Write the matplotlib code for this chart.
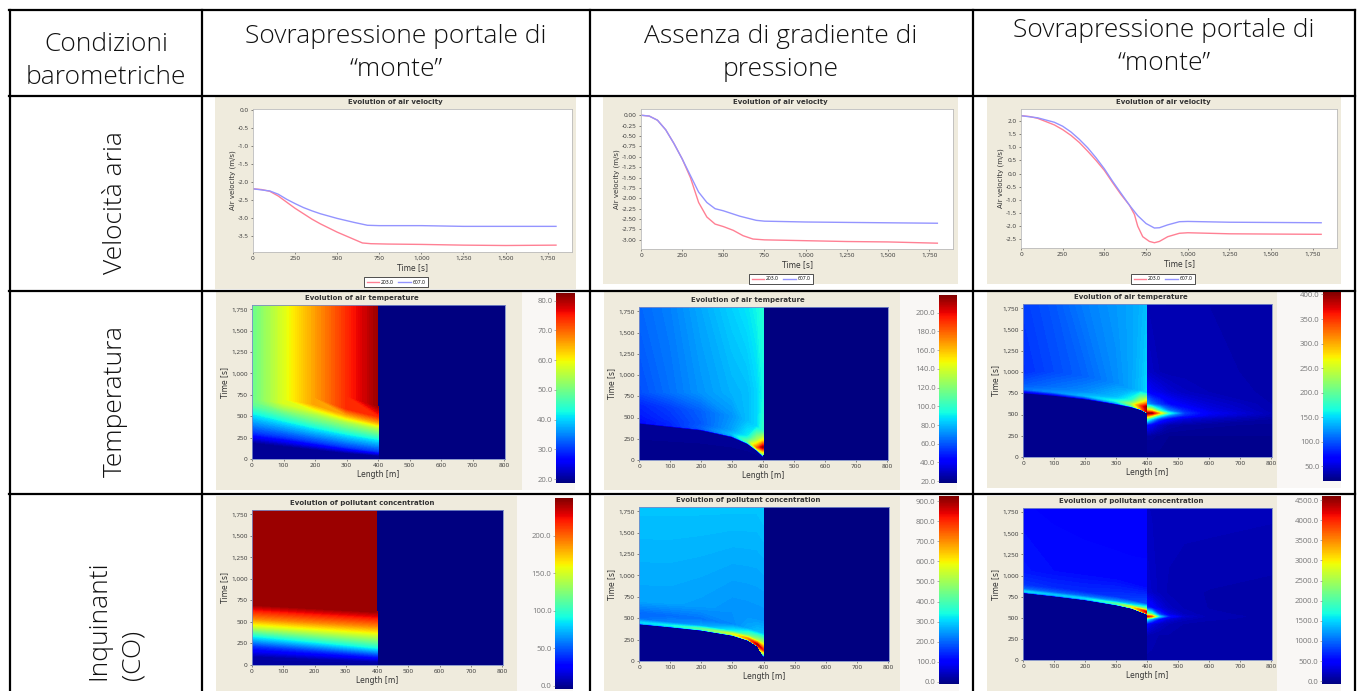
import numpy as np
import matplotlib
matplotlib.use("Agg")
import matplotlib.pyplot as plt
from matplotlib.cm import ScalarMappable
from matplotlib.colors import Normalize
from matplotlib.patches import Rectangle
from matplotlib.ticker import FuncFormatter

W, H = 1359, 691
BEIGE = "#efebdd"
PALE = "#f9f7f5"
plt.rcParams["font.family"] = ["Open Sans", "DejaVu Sans"]

# ---- air velocity curves
v1_t_red = [0, 50, 100, 150, 200, 250, 300, 350, 400, 500, 600, 650, 700, 800, 1000, 1250, 1500, 1800]
v1_red = [-2.18, -2.2, -2.25, -2.38, -2.55, -2.72, -2.87, -3.02, -3.15, -3.38, -3.58, -3.68, -3.7, -3.71, -3.72, -3.74, -3.75, -3.74]
v1_t_blue = [0, 100, 150, 200, 250, 300, 350, 400, 500, 600, 680, 750, 1000, 1250, 1800]
v1_blue = [-2.18, -2.24, -2.33, -2.47, -2.59, -2.7, -2.79, -2.87, -3.0, -3.11, -3.19, -3.2, -3.2, -3.22, -3.22]

v2_t_red = [0, 50, 100, 150, 200, 250, 300, 350, 400, 450, 500, 560, 620, 680, 750, 1000, 1250, 1500, 1800]
v2_red = [0, -0.02, -0.12, -0.35, -0.68, -1.05, -1.5, -2.1, -2.45, -2.62, -2.68, -2.77, -2.9, -2.98, -3.0, -3.02, -3.04, -3.05, -3.08]
v2_t_blue = [0, 50, 100, 150, 200, 250, 300, 350, 400, 450, 500, 600, 700, 750, 1000, 1250, 1800]
v2_blue = [0, -0.02, -0.12, -0.35, -0.68, -1.05, -1.45, -1.85, -2.1, -2.25, -2.3, -2.43, -2.53, -2.55, -2.57, -2.58, -2.6]

v3_t_red = [0, 50, 100, 200, 250, 300, 350, 400, 450, 500, 550, 600, 650, 680, 700, 730, 770, 800, 830, 880, 950, 1000, 1250, 1500, 1800]
v3_red = [2.2, 2.17, 2.1, 1.85, 1.67, 1.45, 1.18, 0.85, 0.5, 0.12, -0.35, -0.8, -1.2, -1.55, -2.0, -2.4, -2.58, -2.63, -2.58, -2.4, -2.27, -2.25, -2.29, -2.3, -2.31]
v3_t_blue = [0, 100, 200, 250, 300, 350, 400, 450, 500, 550, 600, 650, 700, 750, 800, 830, 880, 950, 1000, 1250, 1800]
v3_blue = [2.2, 2.12, 1.95, 1.8, 1.58, 1.3, 0.98, 0.6, 0.18, -0.3, -0.75, -1.2, -1.6, -1.9, -2.07, -2.06, -1.95, -1.83, -1.82, -1.85, -1.87]

# ---- fields: each row gives the time per length and the value there
t1_len = [0, 100, 200, 300, 400]
t1_time = [[0, 0, 0, 0, 0], [190, 150, 110, 70, 40], [310, 260, 200, 140, 90], [500, 420, 340, 270, 210],
           [650, 540, 450, 370, 300], [670, 600, 520, 430, 350], [700, 660, 560, 460, 380], [700, 700, 640, 520, 430],
           [720, 720, 720, 590, 500], [740, 740, 740, 740, 620], [1800, 1800, 1800, 1800, 1800]]
t1_val = [[20, 20, 20, 20, 20], [20, 20, 20, 20, 20], [30, 30, 30, 30, 30], [40, 40, 40, 40, 40],
          [49, 49, 49, 49, 49], [49, 54, 54, 54, 54], [49, 58, 58, 58, 58], [49, 58, 66, 66, 66],
          [49, 58, 66, 74, 74], [49, 58, 66, 74, 81], [49, 58, 66, 74, 81]]

t2_len = [0, 100, 200, 300, 350, 380, 400]
t2_time = [[0, 0, 0, 0, 0, 0, 0], [430, 390, 350, 270, 190, 110, 40], [445, 405, 365, 285, 205, 125, 60],
           [470, 430, 385, 305, 225, 150, 150], [520, 480, 430, 350, 280, 230, 230], [650, 620, 580, 520, 470, 400, 340],
           [800, 800, 800, 800, 800, 800, 800], [1800, 1800, 1800, 1800, 1800, 1800, 1800]]
t2_val = [[20, 20, 20, 20, 20, 20, 20], [22, 22, 22, 22, 22, 22, 22], [45, 50, 60, 75, 100, 140, 110],
          [45, 50, 62, 80, 110, 175, 215], [47, 52, 60, 75, 90, 130, 150], [50, 55, 62, 72, 80, 85, 100],
          [58, 65, 72, 78, 80, 85, 92], [63, 68, 76, 84, 88, 92, 96]]

t3_len = [0, 100, 200, 300, 350, 380, 400]
t3_time = [[0, 0, 0, 0, 0, 0, 0], [750, 720, 680, 620, 585, 555, 515], [765, 735, 695, 635, 600, 565, 525],
           [800, 765, 720, 660, 625, 600, 590], [860, 820, 770, 700, 670, 650, 640], [1000, 1000, 950, 870, 800, 780, 750],
           [1800, 1800, 1800, 1800, 1800, 1800, 1800]]
t3_val = [[25, 25, 25, 25, 25, 25, 25], [25, 25, 25, 25, 25, 25, 25], [60, 70, 90, 130, 190, 300, 380],
          [110, 120, 135, 165, 230, 340, 400], [100, 110, 120, 140, 170, 250, 300], [85, 95, 105, 120, 130, 140, 150],
          [90, 100, 115, 125, 130, 135, 140]]
t3_right_len = [400, 415, 440, 470, 520, 600, 800]
t3_right_time = [0, 250, 380, 450, 490, 515, 545, 620, 760, 1000, 1800]
t3_right_val = [[25, 25, 25, 25, 25, 25, 25], [30, 30, 28, 26, 26, 26, 26], [70, 60, 45, 35, 32, 30, 28],
                [200, 150, 90, 65, 50, 42, 32], [330, 290, 180, 120, 80, 55, 36], [395, 395, 290, 170, 90, 60, 38],
                [300, 280, 180, 115, 80, 55, 36], [130, 110, 90, 70, 58, 48, 35], [70, 60, 55, 48, 42, 38, 34],
                [45, 42, 38, 36, 36, 36, 34], [38, 36, 35, 35, 35, 35, 34]]

c1_len = [0, 400]
c1_time = [[0, 0], [100, 40], [220, 110], [340, 200], [450, 350], [540, 450], [620, 530], [700, 620], [1800, 1800]]
c1_val = [[2, 2], [5, 5], [40, 40], [90, 90], [150, 150], [190, 190], [215, 215], [243, 243], [243, 243]]

c2_len = [0, 100, 200, 300, 350, 380, 400]
c2_time = [[0, 0, 0, 0, 0, 0, 0], [430, 395, 357, 297, 240, 170, 50], [438, 403, 365, 305, 248, 178, 60],
           [450, 415, 377, 317, 262, 195, 130], [490, 450, 410, 350, 300, 240, 210], [560, 530, 490, 430, 380, 340, 320],
           [700, 680, 650, 600, 550, 500, 480], [1800, 1800, 1800, 1800, 1800, 1800, 1800]]
c2_val = [[0, 0, 0, 0, 0, 0, 0], [0, 0, 0, 0, 0, 0, 0], [250, 280, 350, 450, 600, 780, 300],
          [300, 330, 420, 560, 700, 880, 800], [210, 230, 260, 330, 430, 520, 520], [200, 205, 210, 230, 260, 280, 280],
          [255, 255, 250, 240, 240, 240, 240], [285, 285, 285, 285, 285, 285, 290]]

c3_len = [0, 100, 200, 300, 350, 400]
c3_time = [[0, 0, 0, 0, 0, 0], [795, 755, 710, 650, 610, 540], [801, 761, 716, 656, 616, 548],
           [813, 773, 728, 668, 628, 570], [840, 800, 755, 695, 655, 600], [885, 850, 800, 745, 705, 660],
           [1050, 1050, 1000, 950, 900, 850], [1800, 1800, 1800, 1800, 1800, 1800]]
c3_val = [[0, 0, 0, 0, 0, 0], [0, 0, 0, 0, 0, 0], [1000, 1000, 1100, 1500, 2200, 3800],
          [1500, 1400, 1500, 2000, 2800, 4300], [1000, 950, 1000, 1200, 1500, 2400], [750, 700, 700, 750, 800, 900],
          [600, 550, 550, 550, 550, 550], [520, 500, 480, 460, 450, 450]]
c3_right_len = [400, 415, 440, 470, 520, 600, 800]
c3_right_time = [0, 300, 430, 490, 515, 540, 620, 800, 1800]
c3_right_val = [[100, 100, 100, 100, 100, 100, 100], [150, 130, 110, 110, 100, 100, 100], [500, 320, 220, 150, 110, 100, 100],
                [1800, 1300, 600, 300, 170, 120, 100], [4200, 3800, 1500, 600, 240, 130, 100], [2600, 2100, 800, 340, 180, 120, 100],
                [650, 500, 320, 200, 140, 110, 100], [250, 220, 170, 140, 120, 110, 100], [190, 180, 170, 170, 170, 170, 160]]

legend_labels = ["203.0", "607.0"]
headers = [("Condizioni\nbarometriche", 106, 61), ("Sovrapressione portale di\n“monte”", 396, 53),
           ("Assenza di gradiente di\npressione", 781, 53), ("Sovrapressione portale di\n“monte”", 1164, 47)]
row_labels = [("Velocità aria", 115, 203), ("Temperatura", 115, 401), ("Inquinanti\n(CO)", 116, 620)]


def px_axes(fig, x0, y0, x1, y1):
    # pixel box, y counted from the top of the picture
    return fig.add_axes([x0 / W, 1 - y1 / H, (x1 - x0) / W, (y1 - y0) / H], zorder=2)


def comma(v, pos):
    return f"{int(v):,}"


def style_axes(ax, edge):
    ax.tick_params(labelsize=4.6, length=1.5, width=0.4, pad=1.5, colors="#333333")
    for s in ax.spines.values():
        s.set_color(edge)
        s.set_linewidth(0.6)


def velocity_panel(fig, bg, box, title, title_x, ylim, yticks, yfmt, red, blue, legend_xy):
    bg.add_patch(Rectangle((box[0], box[1]), box[2] - box[0], box[3] - box[1], color=BEIGE, lw=0, zorder=0))
    bg.text(title_x, 102, title, fontsize=5, fontweight="bold", color="#333333", ha="center", va="center", family="DejaVu Sans")
    ax = px_axes(fig, *box[4:])
    l1, = ax.plot(red[0], red[1], color="#ff8094", lw=1.0, label=legend_labels[0])
    l2, = ax.plot(blue[0], blue[1], color="#9494ff", lw=1.0, label=legend_labels[1])
    ax.set_xlim(0, 1895)
    ax.set_ylim(*ylim)
    ax.set_xticks(range(0, 2000, 250))
    ax.set_yticks(yticks)
    ax.xaxis.set_major_formatter(FuncFormatter(comma))
    ax.yaxis.set_major_formatter(FuncFormatter(lambda v, p: yfmt.format(v)))
    style_axes(ax, "#bbbbbb")
    ax.set_xlabel("Time [s]", fontsize=5.5, labelpad=1.5, color="#333333", family="DejaVu Sans")
    ax.set_ylabel("Air velocity (m/s)", fontsize=5, labelpad=1.5, color="#333333", family="DejaVu Sans")
    leg = fig.legend(handles=[l1, l2], ncol=2, fontsize=3.6, loc="center", bbox_to_anchor=(legend_xy[0] / W, 1 - legend_xy[1] / H),
                     fancybox=False, edgecolor="#333333", framealpha=1, handlelength=2.5, columnspacing=0.8, borderpad=0.5, handletextpad=0.4)
    leg.get_frame().set_linewidth(0.6)
    leg.set_zorder(5)


def field_panel(fig, bg, box, title, title_x, title_y, cbox, vlim, cticks, fields):
    bg.add_patch(Rectangle((box[0], box[1]), box[2] - box[0], box[3] - box[1], color=BEIGE, lw=0, zorder=0))
    bg.add_patch(Rectangle((box[2], box[1]), cbox[2] - box[2], box[3] - box[1], color=PALE, lw=0, zorder=0))
    bg.text(title_x, title_y, title, fontsize=5, fontweight="bold", color="#333333", ha="center", va="center", family="DejaVu Sans")
    ax = px_axes(fig, *box[4:])
    ax.set_facecolor(plt.get_cmap("jet")(0.0))
    levels = np.linspace(vlim[0], vlim[1], 129)
    for lengths, times, values in fields:
        vals = np.array(values, dtype=float)
        times = np.array(times, dtype=float)
        if times.ndim == 1:
            times = np.tile(times[:, None], (1, vals.shape[1]))
        xx = np.tile(np.array(lengths, dtype=float), (vals.shape[0], 1))
        ax.contourf(xx, times, vals, levels=levels, cmap="jet", extend="both", antialiased=False)
    ax.set_xlim(0, 803)
    ax.set_ylim(0, 1800)
    ax.set_xticks(range(0, 900, 100))
    ax.set_yticks(range(0, 2000, 250))
    ax.yaxis.set_major_formatter(FuncFormatter(comma))
    style_axes(ax, "#7c8cc8")
    ax.set_xlabel("Length [m]", fontsize=5.5, labelpad=1.5, color="#333333", family="DejaVu Sans")
    ax.set_ylabel("Time [s]", fontsize=5.5, labelpad=1.5, color="#333333", family="DejaVu Sans")

    cax = px_axes(fig, *cbox)
    sm = ScalarMappable(Normalize(*vlim), cmap="jet")
    cb = fig.colorbar(sm, cax=cax)
    cb.set_ticks(cticks)
    cb.ax.yaxis.set_ticks_position("left")
    cb.ax.set_yticklabels([f"{c:.1f}" for c in cticks])
    cb.ax.tick_params(labelsize=5.6, length=1.5, width=0.4, pad=1, colors="#777777")
    cb.outline.set_visible(False)


fig = plt.figure(figsize=(W / 100, H / 100), dpi=100)
bg = fig.add_axes([0, 0, 1, 1], zorder=1)
bg.set_xlim(0, W)
bg.set_ylim(H, 0)
bg.axis("off")

# header and row titles
for txt, x, y in headers:
    bg.text(x, y, txt, fontsize=19, ha="center", va="center", color="#111111", linespacing=1.42, fontweight="light")
for txt, x, y in row_labels:
    bg.text(x, y, txt, fontsize=19, ha="center", va="center", rotation=90, color="#111111", linespacing=1.5, multialignment="left", fontweight="light")

# first row: air velocity
velocity_panel(fig, bg, (215, 97, 576, 289, 253, 109, 572, 252), "Evolution of air velocity", 395, [-3.93, 0.03],
               np.arange(-3.5, 0.1, 0.5), "{:.1f}", (v1_t_red, v1_red), (v1_t_blue, v1_blue), (396, 282))
velocity_panel(fig, bg, (603, 97, 958, 284, 641, 109, 953, 249), "Evolution of air velocity", 780, [-3.22, 0.15],
               np.arange(-3.0, 0.1, 0.25), "{:.2f}", (v2_t_red, v2_red), (v2_t_blue, v2_blue), (781, 279))
velocity_panel(fig, bg, (987, 97, 1341, 284, 1021, 109, 1337, 248), "Evolution of air velocity", 1163, [-2.83, 2.455],
               np.arange(-2.5, 2.1, 0.5), "{:.1f}", (v3_t_red, v3_red), (v3_t_blue, v3_blue), (1163, 279))

# second row: temperature
field_panel(fig, bg, (216, 292, 522, 490, 252, 305, 505, 459), "Evolution of air temperature", 362, 298,
            (556, 293, 575, 483), (18.7, 82.6), [20, 30, 40, 50, 60, 70, 80], [(t1_len, t1_time, t1_val)])
field_panel(fig, bg, (604, 292, 900, 490, 639, 307, 888, 460), "Evolution of air temperature", 748, 300,
            (939, 295, 957, 483), (18, 219), list(range(20, 201, 20)), [(t2_len, t2_time, t2_val)])
field_panel(fig, bg, (987, 292, 1277, 488, 1023, 304, 1272, 457), "Evolution of air temperature", 1131, 297,
            (1323, 292, 1341, 481), (20, 405), list(range(50, 401, 50)),
            [(t3_len, t3_time, t3_val), (t3_right_len, t3_right_time, t3_right_val)])

# third row: pollutant
field_panel(fig, bg, (216, 496, 517, 691, 252, 510, 503, 665), "Evolution of pollutant concentration", 362, 503,
            (555, 498, 573, 689), (-4, 250), [0, 50, 100, 150, 200], [(c1_len, c1_time, c1_val)])
field_panel(fig, bg, (604, 496, 900, 691, 639, 507, 889, 661), "Evolution of pollutant concentration", 748, 500,
            (939, 496, 959, 684), (-10, 925), list(range(0, 901, 100)), [(c2_len, c2_time, c2_val)])
field_panel(fig, bg, (987, 496, 1277, 691, 1023, 508, 1272, 660), "Evolution of pollutant concentration", 1131, 501,
            (1322, 496, 1341, 684), (-70, 4600), list(range(0, 4501, 500)),
            [(c3_len, c3_time, c3_val), (c3_right_len, c3_right_time, c3_right_val)])

# table rules
for y in [10, 96, 291, 494]:
    bg.plot([9, 1355], [y, y], color="black", lw=1.6, solid_capstyle="projecting", zorder=3)
for x in [10, 202, 590, 973, 1355]:
    bg.plot([x, x], [10, H], color="black", lw=1.6, solid_capstyle="projecting", zorder=3)

fig.savefig("out.png", dpi=100, facecolor="white")
